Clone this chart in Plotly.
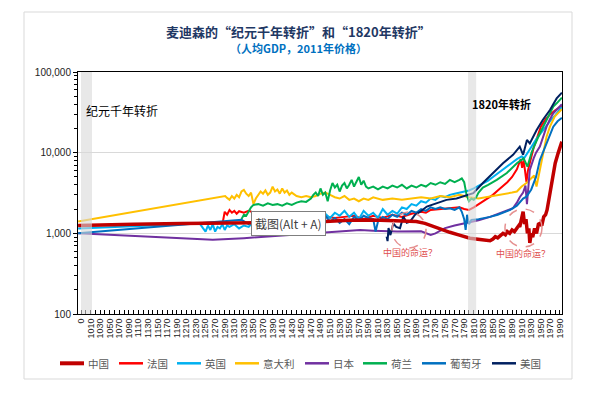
import plotly.graph_objects as go

# ---------------- data (x in axis-label years) ----------------
china_x = [984, 1000, 1100, 1200, 1300, 1400, 1500, 1550, 1600, 1650, 1690, 1708, 1720, 1740, 1760, 1780, 1802, 1823, 1844, 1850,
           1855, 1860, 1865, 1871, 1876, 1880, 1885, 1890, 1895, 1900, 1904, 1906, 1909, 1913, 1916, 1919, 1922, 1925, 1927, 1930,
           1933, 1937, 1941, 1945, 1948, 1952, 1956, 1960, 1963, 1966, 1969, 1974, 1980, 1986, 1990, 1994]
china_y = [1250, 1260, 1300, 1320, 1330, 1360, 1400, 1450, 1460, 1430, 1400, 1330, 1250, 1130, 1030, 950, 870, 840, 810, 850,
           910, 880, 930, 1000, 960, 1050, 1000, 1100, 1050, 1150, 1250, 1200, 1400, 1860, 1300, 1500, 1000, 1150, 760, 1000,
           900, 1150, 1000, 1300, 1330, 1250, 1600, 1700, 1950, 2500, 3150, 4800, 7400, 9800, 11800, 13700]

france_x = [984, 1100, 1200, 1286, 1290, 1295, 1300, 1305, 1310, 1315, 1320, 1330, 1340, 1350, 1360, 1380, 1400, 1420, 1440, 1460,
            1480, 1500, 1520, 1540, 1560, 1580, 1600, 1620, 1640, 1660, 1680, 1700, 1710, 1720, 1740, 1760, 1780, 1790, 1800, 1810,
            1820, 1830, 1840, 1850, 1860, 1870, 1880, 1890, 1900, 1905, 1908, 1911, 1914, 1917, 1920, 1923, 1927, 1930, 1935, 1940,
            1945, 1950, 1960, 1970, 1980, 1990, 1994]
france_y = [1250, 1280, 1320, 1370, 1850, 1700, 1950, 1800, 1900, 1750, 1880, 1800, 1900, 1820, 1750, 1700, 1650, 1600, 1550, 1600,
            1550, 1600, 1550, 1600, 1650, 1500, 1650, 1550, 1700, 1600, 1750, 1850, 1800, 1950, 2000, 2050, 2100, 2000, 1950, 2100,
            2300, 2500, 2800, 3000, 3400, 3800, 4300, 5000, 6200, 7500, 8300, 6500, 8000, 6000, 4300, 6000, 7500, 9000, 11500, 14000,
            17500, 21000, 26000, 30000, 33500, 37000, 38000]

uk_x = [984, 1238, 1245, 1250, 1255, 1260, 1265, 1270, 1275, 1280, 1285, 1290, 1295, 1300, 1310, 1320, 1330, 1340, 1350, 1360,
        1380, 1400, 1420, 1440, 1460, 1470, 1480, 1490, 1500, 1510, 1520, 1530, 1540, 1550, 1560, 1570, 1580, 1590, 1600, 1610,
        1620, 1630, 1640, 1650, 1660, 1670, 1680, 1690, 1700, 1710, 1720, 1730, 1740, 1750, 1760, 1770, 1780, 1790, 1800, 1810,
        1820, 1830, 1840, 1850, 1860, 1870, 1880, 1890, 1900, 1910, 1915, 1920, 1925, 1930, 1940, 1950, 1960, 1970, 1980, 1990,
        1994]
uk_y = [1150, 1320, 1150, 1050, 1250, 1100, 1300, 1050, 1200, 1150, 1300, 1100, 1250, 1200, 1300, 1150, 1250, 1200, 1400, 1500,
        1450, 1550, 1500, 1600, 1700, 1500, 1800, 1600, 1750, 1550, 1800, 1650, 1900, 1600, 1800, 1500, 1900, 1650, 1800, 1550,
        2000, 1700, 1900, 1750, 2100, 2000, 2300, 2200, 2500, 2400, 2700, 2600, 2900, 2800, 3000, 3100, 3200, 3300, 3400, 3600,
        3900, 4200, 4500, 5000, 5500, 6200, 6800, 7500, 8300, 9000, 8500, 9500, 10500, 12000, 14500, 17500, 21000, 25000, 29000, 34000,
        37000]

italy_x = [984, 1291, 1295, 1300, 1305, 1310, 1315, 1320, 1325, 1330, 1335, 1340, 1345, 1350, 1355, 1360, 1365, 1370, 1375, 1380,
           1385, 1390, 1395, 1400, 1405, 1410, 1415, 1420, 1425, 1430, 1440, 1450, 1460, 1470, 1480, 1490, 1500, 1510, 1520, 1530,
           1540, 1550, 1560, 1570, 1580, 1590, 1600, 1620, 1640, 1660, 1680, 1700, 1720, 1740, 1760, 1780, 1790, 1800, 1820, 1850,
           1870, 1890, 1900, 1910, 1920, 1930, 1936, 1941, 1948, 1955, 1962, 1969, 1979, 1994]
italy_y = [1400, 2900, 2750, 2600, 2900, 2700, 3000, 2800, 3300, 3450, 3100, 2900, 3200, 2300, 2700, 3000, 3300, 3100, 3400, 3000,
           3200, 3800, 3300, 3500, 3100, 3600, 3200, 3400, 3000, 3200, 2900, 2800, 2900, 2800, 2900, 3100, 3200, 3000, 2800, 2700,
           2900, 2600, 2700, 2500, 2700, 2600, 2800, 2600, 2700, 2600, 2700, 2800, 2700, 2900, 2800, 3000, 2900, 2800, 2700, 2900,
           3000, 3200, 3300, 3800, 4200, 4800, 5200, 3800, 6100, 10800, 15800, 21000, 28000, 34500]

japan_x = [984, 1265, 1330, 1400, 1480, 1573, 1600, 1650, 1700, 1710, 1720, 1730, 1750, 1770, 1790, 1800, 1820, 1844, 1860, 1880,
           1892, 1900, 1906, 1913, 1918, 1921, 1924, 1927, 1935, 1940, 1948, 1955, 1962, 1969, 1976, 1985, 1994]
japan_y = [1000, 830, 870, 930, 1000, 1100, 1080, 1050, 1060, 1000, 955, 1000, 1160, 1250, 1330, 1370, 1450, 1600, 1750, 1950,
           2050, 2400, 2800, 3200, 3900, 2300, 4000, 6100, 8500, 10000, 11900, 16000, 21000, 26000, 30800, 35000, 39800]

neth_x = [1325, 1330, 1335, 1340, 1345, 1350, 1360, 1370, 1380, 1390, 1400, 1410, 1420, 1430, 1440, 1450, 1460, 1470, 1475, 1480,
          1485, 1490, 1495, 1500, 1505, 1510, 1515, 1520, 1525, 1530, 1535, 1540, 1545, 1550, 1555, 1560, 1565, 1570, 1575, 1580,
          1585, 1590, 1600, 1610, 1620, 1630, 1640, 1650, 1660, 1670, 1680, 1690, 1700, 1710, 1720, 1730, 1740, 1750, 1760, 1770,
          1780, 1785, 1790, 1795, 1800, 1805, 1810, 1815, 1820, 1829, 1840, 1858, 1879, 1900, 1914, 1918, 1922, 1931, 1940, 1948,
          1962, 1976, 1985, 1994]
neth_y = [1500, 1700, 1650, 1900, 2100, 2250, 2300, 2200, 2350, 2250, 2300, 2200, 2350, 2250, 2400, 2500, 2450, 2700, 3000, 3200,
          2900, 3600, 3000, 3200, 2500, 3400, 4200, 3700, 4000, 3300, 3900, 4200, 3600, 4000, 4600, 3800, 4400, 5000, 4000, 4500,
          3800, 3600, 3800, 3500, 3800, 3600, 3900, 3700, 4000, 3600, 3900, 3700, 4000, 3800, 4200, 4000, 4300, 4100, 4600, 4300,
          4600, 4800, 4300, 3000, 2500, 2700, 2600, 2800, 3200, 3700, 4000, 4600, 5600, 7400, 8500, 7500, 6700, 10200, 13500, 17400,
          25400, 37200, 42000, 48000]

port_x = [984, 1325, 1340, 1350, 1365, 1380, 1400, 1420, 1440, 1460, 1480, 1500, 1510, 1520, 1530, 1540, 1550, 1560, 1570, 1580,
          1590, 1600, 1605, 1610, 1620, 1630, 1640, 1650, 1660, 1670, 1680, 1690, 1700, 1710, 1720, 1730, 1740, 1750, 1760, 1770,
          1780, 1785, 1790, 1793, 1796, 1800, 1805, 1820, 1844, 1860, 1886, 1900, 1913, 1920, 1930, 1940, 1948, 1962, 1976, 1985,
          1994]
port_y = [1000, 1470, 1300, 1450, 1350, 1500, 1400, 1550, 1450, 1600, 1500, 1650, 1400, 1550, 1350, 1500, 1300, 1600, 1450, 1650,
          1550, 1500, 1050, 1400, 1600, 1500, 1700, 1600, 1800, 1700, 1900, 1800, 2000, 1900, 2100, 2000, 2100, 2000, 2050, 1950,
          2100, 1850, 1500, 1100, 1700, 1300, 1470, 1500, 1600, 1700, 1950, 2200, 2700, 2850, 3500, 5000, 8100, 13000, 21000, 24500,
          27000]

us_x = [1628, 1630, 1632, 1636, 1642, 1648, 1656, 1663, 1670, 1677, 1687, 1698, 1712, 1733, 1753, 1774, 1795, 1809, 1829, 1850,
        1871, 1892, 1906, 1913, 1921, 1927, 1941, 1954, 1969, 1983, 1994]
us_y = [910, 800, 1160, 950, 1330, 1200, 1160, 1620, 1350, 1400, 1690, 1850, 2150, 2350, 2600, 2700, 3000, 3150, 4200, 5600,
        7400, 9400, 11900, 9400, 14400, 13000, 19000, 25400, 33800, 47000, 55400]

# axis tick labels
x_tick_text = ["0"] + [str(v) for v in range(1010, 2000, 20)]
x_tick_vals = [990] + list(range(1010, 2000, 20))
y_tick_vals = [100, 1000, 10000, 100000]
y_tick_text = ["100", "1,000", "10,000", "100,000"]

# series: name, x, y, colour, width
series = [
    ("中国", china_x, china_y, "#C00000", 3.5),
    ("法国", france_x, france_y, "#FF0000", 2),
    ("英国", uk_x, uk_y, "#00B0F0", 2),
    ("意大利", italy_x, italy_y, "#FFC000", 2),
    ("日本", japan_x, japan_y, "#7030A0", 2),
    ("荷兰", neth_x, neth_y, "#00B050", 2),
    ("葡萄牙", port_x, port_y, "#0070C0", 2),
    ("美国", us_x, us_y, "#002060", 2),
]
draw_order = [1, 2, 3, 4, 5, 6, 7, 0]  # China drawn on top

# legend layout (pixel positions of each entry's line start, in figure px)
legend_px = [60, 119, 177, 235, 305, 363, 422, 492]

PL, PR, PT, PB = 78, 562, 72, 314
def px_x(p):
    return (p - PL) / (PR - PL)
def px_y(p):
    return (PB - p) / (PB - PT)

fig = go.Figure()
for i in draw_order:
    name, xs, ys, col, w = series[i]
    fig.add_trace(go.Scatter(x=xs, y=ys, mode="lines", name=name, showlegend=False,
                             line=dict(color=col, width=w)))

FONT = "Liberation Sans, Noto Sans CJK SC, sans-serif"
CJK = "Noto Sans CJK SC, Liberation Sans, sans-serif"

minor_x = [v + 10 for v in x_tick_vals[1:-1]] + [1000]
minor_y = [m * d for d in (100, 1000, 10000) for m in range(2, 10)]

fig.update_layout(
    width=596, height=393,
    margin=dict(l=PL, r=596 - PR, t=PT, b=393 - PB, autoexpand=False),
    paper_bgcolor="white", plot_bgcolor="white",
    font=dict(family=FONT, size=10, color="#222"),
    showlegend=False,
    xaxis=dict(range=[983.7, 1994.2], tickmode="array", tickvals=x_tick_vals, ticktext=x_tick_text,
               tickangle=-90, tickfont=dict(size=9, color="#222"), ticks="inside", ticklen=4,
               tickcolor="#000", showline=True, linecolor="#000", linewidth=1, mirror=True,
               showgrid=False, zeroline=False, automargin=False,
               minor=dict(tickmode="array", tickvals=minor_x, ticks="inside", ticklen=4, tickcolor="#000")),
    yaxis=dict(type="log", range=[2, 5], tickmode="array", tickvals=y_tick_vals, ticktext=y_tick_text,
               tickfont=dict(size=10, color="#222"), ticks="outside", ticklen=4, tickcolor="#000",
               showline=True, linecolor="#000", linewidth=1, mirror=True, automargin=False,
               showgrid=True, gridcolor="#D9D9D9", gridwidth=1, zeroline=False,
               minor=dict(tickmode="array", tickvals=minor_y, ticks="outside", ticklen=3, tickcolor="#000",
                          showgrid=False)),
)

shapes = [
    dict(type="rect", xref="x", yref="paper", x0=990, x1=1013, y0=0, y1=1,
         fillcolor="#D9D9D9", opacity=0.6, line=dict(width=0), layer="above"),
    dict(type="rect", xref="x", yref="paper", x0=1798, x1=1815, y0=0, y1=1,
         fillcolor="#D9D9D9", opacity=0.6, line=dict(width=0), layer="above"),
    dict(type="circle", xref="paper", yref="paper", x0=px_x(392), x1=px_x(426), y0=px_y(248), y1=px_y(212),
         line=dict(color="#E59090", width=1.5, dash="dash"), layer="above"),
    dict(type="circle", xref="paper", yref="paper", x0=px_x(505), x1=px_x(542), y0=px_y(247), y1=px_y(209),
         line=dict(color="#E59090", width=1.5, dash="dash"), layer="above"),
    dict(type="rect", xref="paper", yref="paper", x0=px_x(24), x1=px_x(572), y0=px_y(379), y1=px_y(12),
         line=dict(color="#D9D9D9", width=1), layer="below"),
]

annotations = [
    dict(text="<b>麦迪森的“纪元千年转折”和“1820年转折”</b>", xref="paper", yref="paper",
         x=px_x(298.5), y=px_y(31.7), xanchor="center", yanchor="middle", showarrow=False,
         font=dict(family=CJK, size=13, color="#1F3864")),
    dict(text="<b>（人均GDP，2011年价格）</b>", xref="paper", yref="paper",
         x=px_x(298.5), y=px_y(48.3), xanchor="center", yanchor="middle", showarrow=False,
         font=dict(family=CJK, size=11, color="#0070C0")),
    dict(text="纪元千年转折", xref="paper", yref="paper", x=px_x(121.7), y=px_y(110),
         xanchor="center", yanchor="middle", showarrow=False,
         font=dict(family=CJK, size=12, color="#000")),
    dict(text="<b>1820年转折</b>", xref="paper", yref="paper", x=px_x(501.7), y=px_y(103.8),
         xanchor="center", yanchor="middle", showarrow=False,
         font=dict(family=CJK, size=11, color="#000")),
    dict(text="中国的命运？", xref="paper", yref="paper", x=px_x(410), y=px_y(252),
         xanchor="center", yanchor="middle", showarrow=False,
         font=dict(family=CJK, size=9, color="#E05050")),
    dict(text="中国的命运？", xref="paper", yref="paper", x=px_x(523), y=px_y(253),
         xanchor="center", yanchor="middle", showarrow=False,
         font=dict(family=CJK, size=9, color="#E05050")),
    dict(text="截图(Alt + A)", xref="paper", yref="paper", x=px_x(288), y=px_y(223),
         xanchor="center", yanchor="middle", showarrow=False,
         bgcolor="white", bordercolor="#7F7F7F", borderwidth=1, borderpad=3,
         font=dict(family=CJK, size=12, color="#404040")),
]

# manual legend
ly = px_y(363.3)
for (name, xs, ys, col, w), lx in zip(series, legend_px):
    shapes.append(dict(type="line", xref="paper", yref="paper", x0=px_x(lx), x1=px_x(lx + 24),
                       y0=ly, y1=ly, line=dict(color=col, width=w + 0.5)))
    annotations.append(dict(text=name, xref="paper", yref="paper", x=px_x(lx + 25.5), y=ly,
                            xanchor="left", yanchor="middle", showarrow=False,
                            font=dict(family=CJK, size=10.5, color="#595959")))

fig.update_layout(shapes=shapes, annotations=annotations)
fig.write_html("out.html", config={"displayModeBar": False},
               post_script="document.body.style.margin='0';document.body.style.padding='0';")
